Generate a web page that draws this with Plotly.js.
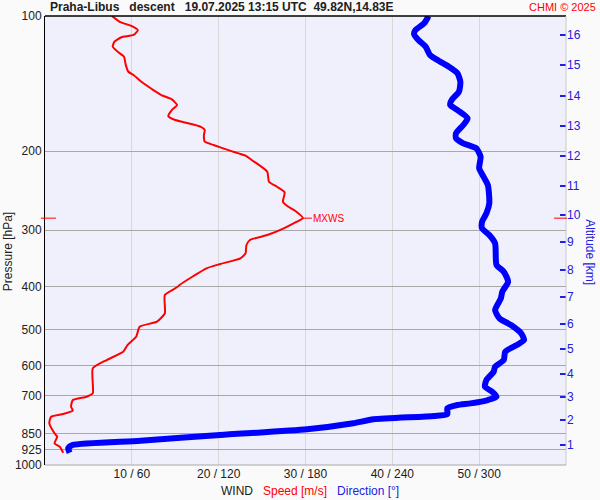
<!DOCTYPE html>
<html>
<head>
<meta charset="utf-8">
<script src="https://cdn.plot.ly/plotly-3.0.1.min.js"></script>
<style>html,body{margin:0;padding:0;background:#FAFAFA;}#chart{width:600px;height:500px;}</style>
</head>
<body>
<div id="chart"></div>
<script>
// Wind speed profile [m/s] vs pressure [hPa]
var speedP = [100,103.0,105.3,107.5,110.2,111.5,114.1,117.0,121.1,123.2,128.5,133.1,135.3,140.1,145.4,150.0,153.3,157.8,162.0,167.1,170.5,173.4,176.4,179.5,184.1,190.5,193.8,199.5,204.7,209.3,215.8,222.3,233.9,240.0,247.0,259.2,265.0,271.4,282,287.2,297.1,307.5,315.5,323.6,337.7,346.4,356.7,364.7,379.4,397.3,402.0,418.2,459.4,479.6,492.0,518.0,540.5,559.4,583.7,609.1,692.4,704.6,716.6,741.7,756.9,769.8,780.5,807.4,850.0,865.0,894.8,910.5,938.8];
var speedV = [7.7,8.6,10.0,10.7,10.2,8.8,8.0,7.8,8.6,9.1,9.3,9.6,10.2,11.1,12.3,13.4,14.6,15.2,14.6,14.2,15.0,16.5,17.9,18.4,18.3,18.4,19.4,21.3,23.1,23.8,24.8,25.6,25.8,26.7,27.6,27.4,27.9,28.8,29.7,29.0,27.5,25.6,23.6,23.2,23.1,22.5,20.2,18.6,17.1,15.5,15.2,13.8,13.8,12.9,10.9,10.5,9.5,9.0,7.1,5.5,5.5,4.8,3.2,3.0,3.2,2.1,0.7,0.5,1.1,1.4,1.1,1.7,2.1];

// Wind direction profile [deg] vs pressure [hPa]
var dirP = [100,103.8,107.5,109.7,113.1,117.0,122.1,125.8,129.7,134.2,140.1,147.5,153.8,157.8,162.0,169.0,174.9,182.5,187.2,192.1,197.1,205.8,218.4,228.0,237.9,261.4,275.1,287.2,297.1,307.5,320.8,358.5,371.1,390.7,411.1,425.4,451.7,471.3,487.8,508.9,526.7,540.5,559.4,583.7,604.0,619.8,646.7,669.3,686.7,704.6,716.6,729.0,735.3,747.8,769.8,777.8,791.1,807.4,832.7,857.4,883.0,902.8,918.1,938.8];
var dirV = [265,262,256,255,258,263,266,272,279,285,287,286,281,280,285,292,289,284,284,289,298,301,300,303,306,307,305,302,302,307,311,312,317,320,316,315,311,314,322,329,331,326,318,317,311,310,305,304,309,312,306,294,285,278,278,269,227,213,181,121,66,19,16,17];

// Axis ticks
var pressureTicks = [100,200,300,400,500,600,700,850,925,1000];
var speedTicks = [10,20,30,40,50];
var speedTickText = ["10 / 60","20 / 120","30 / 180","40 / 240","50 / 300"];
var altitudeKm = ["1","2","3","4","5","6","7","8","9","10","11","12","13","14","15","16"];
var altitudeP = [902.8,793.7,705.6,627.2,551.5,485.3,422.6,367.9,318.6,277.5,239.1,205.0,175.8,150.8,128.5,110.3];

var DIR_SCALE = 6; // 60 deg per 10 m/s

var maxIdx = 0;
for (var i = 1; i < speedV.length; i++) if (speedV[i] > speedV[maxIdx]) maxIdx = i;
var mxwsP = speedP[maxIdx], mxwsV = speedV[maxIdx];

var font = "Liberation Sans, Arial, sans-serif";

var traces = [
  {x: speedV, y: speedP, type: "scatter", mode: "lines", line: {color: "#FF0000", width: 2, shape: "spline", smoothing: 0.5}, hoverinfo: "none", showlegend: false},
  {x: dirV.map(function(d){return d / DIR_SCALE;}), y: dirP, yaxis: "y2", type: "scatter", mode: "lines",
   line: {color: "#0000FF", width: 6, shape: "spline", smoothing: 0.6}, hoverinfo: "none", showlegend: false}
];

var layout = {
  width: 600, height: 500,
  margin: {l: 45, r: 34, t: 16, b: 35},
  paper_bgcolor: "#FAFAFA",
  plot_bgcolor: "#F0F0FC",
  font: {family: font, size: 12, color: "#202020"},
  xaxis: {
    range: [0, 60], tickvals: speedTicks, ticktext: speedTickText,
    showgrid: true, gridcolor: "#D8D8D8", gridwidth: 1, zeroline: false,
    ticks: "", showline: false, tickfont: {size: 12, color: "#202020"}, fixedrange: true
  },
  yaxis: {
    type: "log", range: [3, 2], tickvals: pressureTicks, ticktext: pressureTicks.map(String),
    showgrid: true, gridcolor: "#A8A8A8", gridwidth: 1, zeroline: false,
    ticks: "", showline: true, linecolor: "#000000", linewidth: 1,
    tickfont: {size: 12, color: "#202020"}, fixedrange: true
  },
  yaxis2: {
    type: "log", range: [3, 2], overlaying: "y", side: "right",
    tickvals: altitudeP, ticktext: altitudeKm, showgrid: false, zeroline: false,
    ticks: "inside", ticklen: 6, tickcolor: "#2020E0", tickwidth: 1.5,
    tickfont: {size: 12, color: "#2020E0"}, showline: false, fixedrange: true
  },
  shapes: [
    {type: "line", xref: "paper", yref: "paper", x0: 0, x1: 1, y0: 1, y1: 1, line: {color: "#000000", width: 1.5}},
    {type: "line", xref: "paper", yref: "paper", x0: 1, x1: 1, y0: 0, y1: 1, line: {color: "#C8C8C8", width: 1}},
    {type: "line", xref: "paper", yref: "paper", x0: 0, x1: 1, y0: 0, y1: 0, line: {color: "#A8A8A8", width: 1}},
    {type: "line", xref: "paper", yref: "y", x0: -0.008, x1: 0.021, y0: mxwsP, y1: mxwsP, line: {color: "#FF0000", width: 1}},
    {type: "line", xref: "paper", yref: "y", x0: 0.977, x1: 1.002, y0: mxwsP, y1: mxwsP, line: {color: "#FF0000", width: 1}}
  ],
  annotations: [
    {xref: "paper", yref: "paper", x: 0, y: 1, xanchor: "left", yanchor: "middle", xshift: 3, yshift: 9, showarrow: false,
     text: "<b>Praha-Libus&nbsp;&nbsp;&nbsp;descent&nbsp;&nbsp;&nbsp;19.07.2025 13:15 UTC&nbsp;&nbsp;49.82N,14.83E</b>",
     font: {family: font, size: 12, color: "#202020"}},
    {xref: "paper", yref: "paper", x: 1, y: 1, xanchor: "right", yanchor: "middle", xshift: 32, yshift: 9, showarrow: false,
     text: "CHMI © 2025", font: {family: font, size: 11, color: "#FF0000"}},
    {xref: "paper", yref: "paper", x: 0, y: 0.474, xanchor: "center", yanchor: "middle", xshift: -37, showarrow: false,
     textangle: -90, text: "Pressure [hPa]", font: {family: font, size: 12, color: "#202020"}},
    {xref: "paper", yref: "paper", x: 1, y: 0.474, xanchor: "center", yanchor: "middle", xshift: 24, showarrow: false,
     textangle: 90, text: "Altitude [km]", font: {family: font, size: 12, color: "#2020E0"}},
    {xref: "paper", yref: "paper", x: 0.5, y: 0, xanchor: "center", yanchor: "middle", xshift: 4, yshift: -26, showarrow: false,
     text: "WIND&nbsp;&nbsp;&nbsp;<span style='color:#FF0000'>Speed [m/s]</span>&nbsp;&nbsp;&nbsp;<span style='color:#2020E0'>Direction [°]</span>",
     font: {family: font, size: 12, color: "#202020"}},
    {xref: "x", yref: "y", x: mxwsV, y: Math.log10(mxwsP), showarrow: true, arrowhead: 0, arrowwidth: 1, arrowcolor: "#FF0000",
     ax: 9, ay: 0, standoff: 0, xanchor: "left", yanchor: "middle", text: "MXWS", borderpad: 0,
     font: {family: font, size: 10, color: "#FF0000"}}
  ]
};

Plotly.newPlot("chart", traces, layout, {staticPlot: true, displayModeBar: false});
</script>
</body>
</html>
